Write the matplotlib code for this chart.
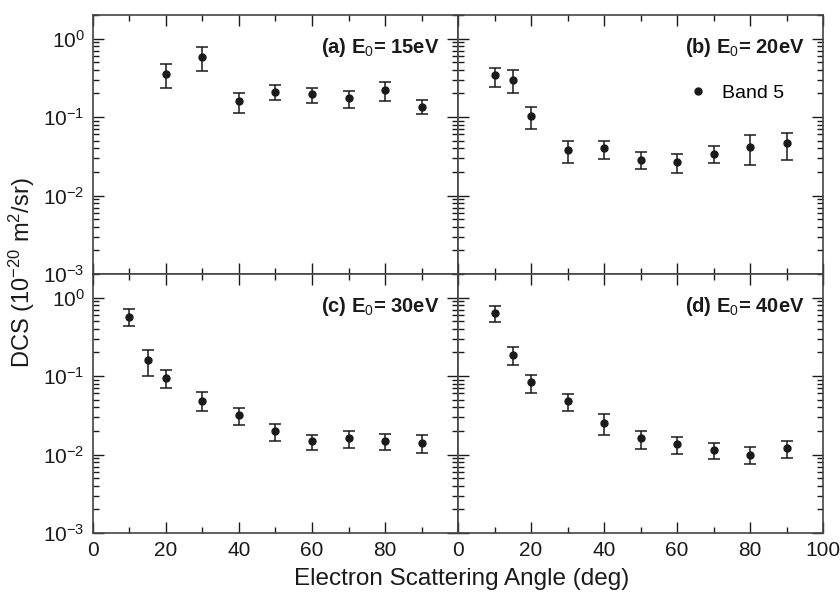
import matplotlib
matplotlib.use("Agg")
import matplotlib.pyplot as plt
import numpy as np
from matplotlib.lines import Line2D
from matplotlib.ticker import LogLocator, MultipleLocator, NullFormatter

plt.rcParams["font.family"] = ["Liberation Sans", "DejaVu Sans"]
plt.rcParams["mathtext.fontset"] = "custom"
plt.rcParams["mathtext.rm"] = "Liberation Sans"
plt.rcParams["mathtext.it"] = "Liberation Sans:italic"
plt.rcParams["mathtext.bf"] = "Liberation Sans:bold"

# panel (a) E0 = 15 eV
angle_a = [20, 30, 40, 50, 60, 70, 80, 90]
dcs_a = [0.356, 0.58, 0.158, 0.207, 0.194, 0.176, 0.223, 0.136]
hi_a = [0.48, 0.78, 0.204, 0.253, 0.236, 0.218, 0.282, 0.167]
lo_a = [0.233, 0.39, 0.112, 0.163, 0.149, 0.132, 0.161, 0.108]

# panel (b) E0 = 20 eV
angle_b = [10, 15, 20, 30, 40, 50, 60, 70, 80, 90]
dcs_b = [0.34, 0.30, 0.102, 0.0381, 0.0399, 0.0286, 0.0264, 0.0341, 0.0411, 0.0462]
hi_b = [0.426, 0.393, 0.133, 0.0497, 0.0499, 0.0355, 0.0338, 0.0423, 0.0592, 0.0628]
lo_b = [0.245, 0.204, 0.0706, 0.026, 0.0294, 0.0215, 0.0191, 0.026, 0.0245, 0.0284]

# panel (c) E0 = 30 eV
angle_c = [10, 15, 20, 30, 40, 50, 60, 70, 80, 90]
dcs_c = [0.574, 0.16, 0.0946, 0.0488, 0.032, 0.0199, 0.0147, 0.0161, 0.0149, 0.0139]
hi_c = [0.711, 0.217, 0.118, 0.0622, 0.0397, 0.0247, 0.018, 0.0199, 0.0182, 0.0177]
lo_c = [0.441, 0.101, 0.0706, 0.036, 0.0239, 0.0147, 0.0113, 0.0122, 0.0113, 0.0104]

# panel (d) E0 = 40 eV
angle_d = [10, 15, 20, 30, 40, 50, 60, 70, 80, 90]
dcs_d = [0.645, 0.187, 0.0833, 0.0478, 0.0251, 0.0161, 0.0137, 0.0114, 0.0100, 0.0120]
hi_d = [0.784, 0.232, 0.102, 0.0593, 0.0327, 0.0199, 0.0169, 0.0140, 0.0125, 0.0147]
lo_d = [0.491, 0.137, 0.0616, 0.036, 0.0177, 0.0119, 0.0103, 0.00869, 0.00766, 0.00904]

panels = [
    (angle_a, dcs_a, hi_a, lo_a, "(a) E$_0$= 15eV"),
    (angle_b, dcs_b, hi_b, lo_b, "(b) E$_0$= 20eV"),
    (angle_c, dcs_c, hi_c, lo_c, "(c) E$_0$= 30eV"),
    (angle_d, dcs_d, hi_d, lo_d, "(d) E$_0$= 40eV"),
]

ink = "#1a1a1a"
fig, axes = plt.subplots(2, 2, figsize=(8.4, 5.93), dpi=100)
fig.subplots_adjust(left=0.1107, right=0.9798, top=0.9747, bottom=0.1012,
                    hspace=0, wspace=0)

for i, (ax, (x, y, hi, lo, label)) in enumerate(zip(axes.flat, panels)):
    y = np.array(y)
    yerr = [y - np.array(lo), np.array(hi) - y]
    ax.errorbar(x, y, yerr=yerr, fmt="o", color=ink, ms=5, elinewidth=1.1,
                capsize=4, capthick=1.1)
    ax.set_yscale("log")
    ax.set_xlim(0, 100)
    ax.set_ylim(1e-3, 2)
    ax.xaxis.set_major_locator(MultipleLocator(20))
    ax.xaxis.set_minor_locator(MultipleLocator(10))
    ax.yaxis.set_major_locator(LogLocator(base=10, numticks=10))
    ax.yaxis.set_minor_locator(LogLocator(base=10, subs=np.arange(2, 10), numticks=10))
    ax.yaxis.set_minor_formatter(NullFormatter())
    ax.tick_params(which="both", direction="in", top=True, right=True,
                   labelsize=15, colors=ink, width=1)
    ax.tick_params(which="major", length=8, pad=6)
    ax.tick_params(which="minor", length=4)
    for s in ax.spines.values():
        s.set_color("#444444")
        s.set_linewidth(1.2)
    ax.text(0.95, 0.875, label, transform=ax.transAxes, ha="right", va="center",
            fontsize=14.5, fontweight="bold", color=ink)
    if i % 2 == 1:
        ax.tick_params(labelleft=False)
    if i < 2:
        ax.tick_params(labelbottom=False)
    if i == 2:
        ax.set_xticks([0, 20, 40, 60, 80])

dot = Line2D([], [], ls="none", marker="o", ms=5, color=ink)
axes[0, 1].legend([dot], ["Band 5"], loc="center left", bbox_to_anchor=(0.605, 0.70),
                  frameon=False, fontsize=14, handlelength=1.2, handletextpad=0.6,
                  borderaxespad=0)

fig.supxlabel("Electron Scattering Angle (deg)", x=0.55, y=0.005, fontsize=17.5, color=ink)
fig.text(0.026, 0.54, "DCS (10$^{-20}$ m$^2$/sr)", rotation=90, ha="center",
         va="center", fontsize=17, color=ink)

fig.savefig("out.png", dpi=100)
